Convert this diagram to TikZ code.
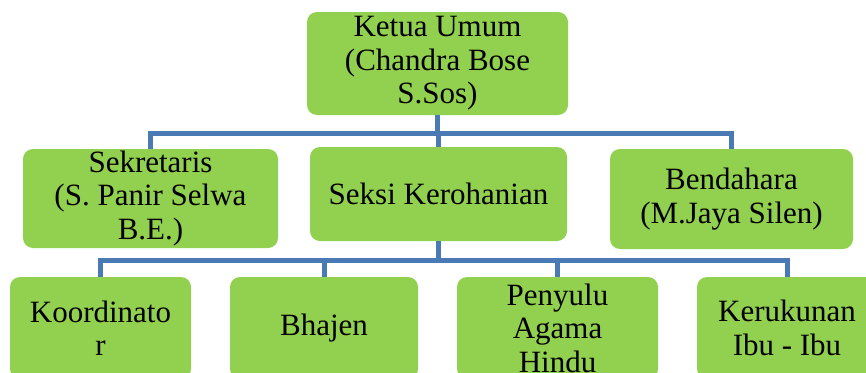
\documentclass[tikz,border=0pt]{standalone}
\usepackage{fontspec}
\setmainfont{Liberation Serif}
\definecolor{boxgreen}{RGB}{146,208,80}
\definecolor{linkblue}{RGB}{74,122,180}
\begin{document}
\begin{tikzpicture}[x=1pt,y=-1pt,
  box/.style={fill=boxgreen, rounded corners=10pt, inner sep=0pt, align=center,
    font=\fontsize{31}{33.5}\selectfont, text=black},
  conn/.style={draw=linkblue, line width=5pt, line join=miter, line cap=butt}]
\useasboundingbox (0,0) rectangle (866,372);
\clip (0,0) rectangle (866,372);
% level 1
\node[box, minimum width=261pt, minimum height=103pt] (top) at (437.5,63.5) {Ketua Umum\\(Chandra Bose\\S.Sos)};
% level 2
\node[box, minimum width=255pt, minimum height=99pt] (sek) at (150.5,198.5) {Sekretaris\\(S. Panir Selwa\\B.E.)};
\node[box, minimum width=257pt, minimum height=94pt] (seksi) at (438.5,194) {Seksi Kerohanian};
\node[box, minimum width=243pt, minimum height=100pt] (bend) at (731.5,199) {Bendahara\\(M.Jaya Silen)};
% level 3
\node[box, minimum width=181pt, minimum height=102pt] (koor) at (100.5,328) {Koordinato\\r};
\node[box, minimum width=188pt, minimum height=102pt] (bhaj) at (324,328) {Bhajen};
\node[box, minimum width=201pt, minimum height=102pt] (peny) at (557.5,328) {Penyulu\\Agama\\Hindu};
\node[box, minimum width=180pt, minimum height=102pt] (keru) at (787,328) {Kerukunan\\Ibu - Ibu};
% buses
\coordinate (bus1) at (0,133);
\coordinate (bus2) at (0,260);
% connectors
\draw[conn] (top.south) -- (top.south |- bus1);
\draw[conn] (sek.north) -- (sek.north |- bus1) -- (bend.north |- bus1) -- (bend.north);
\draw[conn] (seksi.north) -- (seksi.north |- bus1);
\draw[conn] (seksi.south) -- (seksi.south |- bus2);
\draw[conn] (koor.north) -- (koor.north |- bus2) -- (keru.north |- bus2) -- (keru.north);
\draw[conn] (bhaj.north) -- (bhaj.north |- bus2);
\draw[conn] (peny.north) -- (peny.north |- bus2);
\end{tikzpicture}
\end{document}
